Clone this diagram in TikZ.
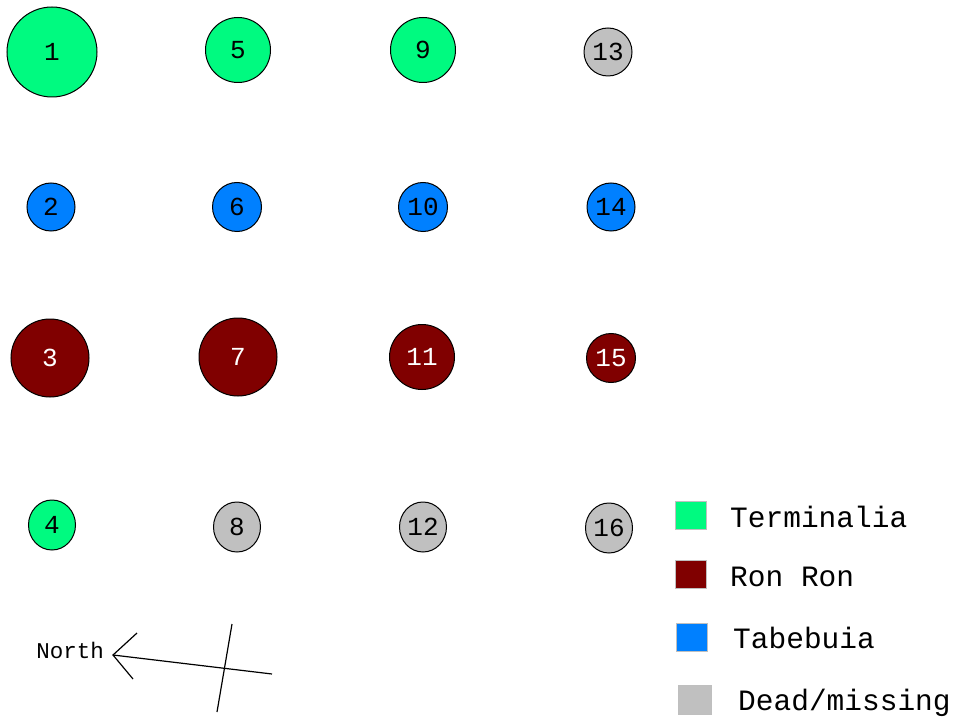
\documentclass[tikz,border=0pt]{standalone}
\usepackage{fontspec}
\setmonofont{Liberation Mono}
\usetikzlibrary{shapes.geometric}
\definecolor{term}{RGB}{0,250,128}
\definecolor{ronron}{RGB}{128,0,0}
\definecolor{tabe}{RGB}{0,128,255}
\definecolor{dead}{RGB}{192,192,192}
\begin{document}
\begin{tikzpicture}[x=1pt,y=-1pt,
  tree/.style={circle, draw=black, line width=1pt, inner sep=0pt,
    font=\ttfamily\fontsize{26}{26}\selectfont},
  oval/.style={ellipse, draw=black, line width=1pt, inner sep=0pt,
    minimum width=47pt, minimum height=50pt,
    font=\ttfamily\fontsize{26}{26}\selectfont},
  keybox/.style={rectangle, draw=black!25, line width=0.8pt, inner sep=0pt,
    minimum width=31pt, minimum height=28pt},
  keytext/.style={anchor=west, inner sep=0pt,
    font=\ttfamily\fontsize{29.5}{30}\selectfont},
  compass/.style={line width=1.2pt, black}]
\useasboundingbox (0,0) rectangle (955,719);
\fill[white] (0,0) rectangle (955,719);
% row 1
\node[tree, fill=term, minimum size=90pt] (t1) at (52,52) {1};
\node[tree, fill=term, minimum size=65pt] (t5) at (238,50) {5};
\node[tree, fill=term, minimum size=65pt] (t9) at (423,50) {9};
\node[tree, fill=dead, minimum size=48pt] (t13) at (608,52) {13};
% row 2
\node[tree, fill=tabe, minimum size=48pt] (t2) at (51,207) {2};
\node[tree, fill=tabe, minimum size=49pt] (t6) at (237,207) {6};
\node[tree, fill=tabe, minimum size=49pt] (t10) at (423,207) {10};
\node[tree, fill=tabe, minimum size=48pt] (t14) at (611,207) {14};
% row 3
\node[tree, fill=ronron, minimum size=78pt, text=white] (t3) at (50,358) {3};
\node[tree, fill=ronron, minimum size=78pt, text=white] (t7) at (238,357) {7};
\node[tree, fill=ronron, minimum size=65pt, text=white] (t11) at (422,357) {11};
\node[tree, fill=ronron, minimum size=49pt, text=white] (t15) at (611,358) {15};
% row 4
\node[oval, fill=term] (t4) at (52,525) {4};
\node[oval, fill=dead] (t8) at (237,527) {8};
\node[oval, fill=dead] (t12) at (423,527) {12};
\node[oval, fill=dead] (t16) at (609,528) {16};
% legend
\node[keybox, fill=term] (k1) at (691,515) {};
\node[keytext] (l1) at (730,517) {Terminalia};
\node[keybox, fill=ronron] (k2) at (691,574) {};
\node[keytext] (l2) at (730,577) {Ron Ron};
\node[keybox, fill=tabe] (k3) at (692,637) {};
\node[keytext] (l3) at (733,638) {Tabebuia};
\node[keybox, fill=dead, minimum width=33pt, minimum height=29pt] (k4) at (695,700) {};
\node[keytext] (l4) at (738,703) {Dead/missing};
% compass
\node[anchor=east, inner sep=0pt, font=\ttfamily\fontsize{22.5}{22.5}\selectfont] (north) at (104,650) {North};
\coordinate (apex) at (113,655);
\coordinate (barbA) at (137,633);
\coordinate (barbB) at (133,679);
\coordinate (tail) at (272,674);
\coordinate (crossT) at (232,624);
\coordinate (crossB) at (217,712);
\draw[compass] (barbA) -- (apex) -- (barbB);
\draw[compass] (apex) -- (tail);
\draw[compass] (crossT) -- (crossB);
\end{tikzpicture}
\end{document}
